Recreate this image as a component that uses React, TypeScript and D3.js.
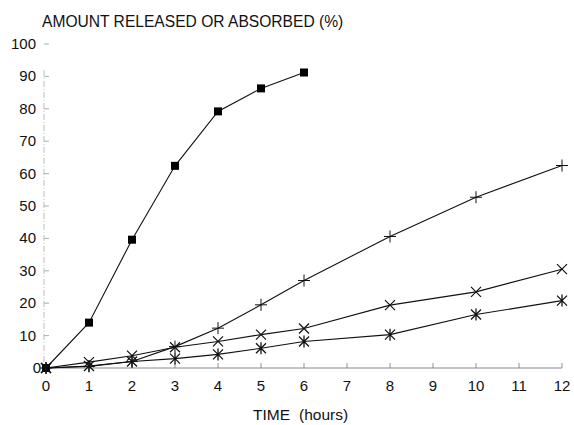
import React from "react";
import * as d3 from "d3";

const xTicks = [0, 1, 2, 3, 4, 5, 6, 7, 8, 9, 10, 11, 12];
const yTicks = [0, 10, 20, 30, 40, 50, 60, 70, 80, 90, 100];

const squareX = [0, 1, 2, 3, 4, 5, 6];
const squareY = [0, 14, 39.6, 62.4, 79.2, 86.3, 91.2];

const plusX = [0, 1, 2, 3, 4, 5, 6, 8, 10, 12];
const plusY = [0, 0.5, 2, 6.6, 12.3, 19.5, 27, 40.6, 52.7, 62.5];

const crossX = [0, 1, 2, 3, 4, 5, 6, 8, 10, 12];
const crossY = [0, 1.8, 3.8, 6.4, 8.2, 10.3, 12.2, 19.4, 23.5, 30.5];

const starX = [0, 1, 2, 3, 4, 5, 6, 8, 10, 12];
const starY = [0, 0.6, 2, 2.9, 4.2, 6.1, 8.2, 10.3, 16.5, 20.8];

const FONT = "'Liberation Sans', Arial, Helvetica, sans-serif";

export default function App() {
  const W = 574, H = 425;
  const x = d3.scaleLinear().domain([0, 12]).range([46, 562]);
  const y = d3.scaleLinear().domain([0, 100]).range([368, 44]);
  const line = d3.line<[number, number]>().x(d => x(d[0])).y(d => y(d[1]));
  const zip = (a: number[], b: number[]) => a.map((v, i) => [v, b[i]] as [number, number]);

  const sq = zip(squareX, squareY);
  const pl = zip(plusX, plusY);
  const cr = zip(crossX, crossY);
  const st = zip(starX, starY);

  return (
    <svg width={W} height={H} style={{ position: "absolute", left: 0, top: 0, background: "#fff" }}>
      <rect width={W} height={H} fill="#fff" />
      <text x={42} y={27} fontFamily={FONT} fontSize={15.6} fill="#111">AMOUNT RELEASED OR ABSORBED (%)</text>
      {/* y axis */}
      <line x1={44} x2={44} y1={y(92)} y2={y(0)} stroke="#aaa" strokeWidth={0.8} strokeDasharray="6 2 1 2" />
      {yTicks.map(t => (
        <g key={"y" + t}>
          <line x1={44} x2={49} y1={y(t)} y2={y(t)} stroke="#999" strokeWidth={0.8} />
          <text x={t === 0 ? 41 : 36} y={y(t) + 5} textAnchor="end" fontFamily={FONT} fontSize={15} fill="#111">{t}</text>
        </g>
      ))}
      {/* x axis */}
      <line x1={x(0)} x2={x(12)} y1={y(0)} y2={y(0)} stroke="#888" strokeWidth={1} />
      {xTicks.map(t => (
        <g key={"x" + t}>
          <line x1={x(t)} x2={x(t)} y1={y(0)} y2={y(0) - 5} stroke="#777" strokeWidth={0.8} />
          <text x={x(t)} y={391} textAnchor="middle" fontFamily={FONT} fontSize={15} fill="#111">{t}</text>
        </g>
      ))}
      <text x={253} y={420} fontFamily={FONT} fontSize={15.5} fill="#111">
        TIME<tspan dx={9}>(hours)</tspan>
      </text>

      {/* lines */}
      {[sq, pl, cr, st].map((d, i) => (
        <path key={"l" + i} d={line(d) || ""} fill="none" stroke="#111" strokeWidth={1.1} />
      ))}

      {/* markers */}
      {sq.map((d, i) => (
        <rect key={"s" + i} x={x(d[0]) - 4} y={y(d[1]) - 4} width={8} height={8} fill="#000" />
      ))}
      {pl.map((d, i) => (
        <path key={"p" + i} transform={`translate(${x(d[0])},${y(d[1])})`} d="M-6,0H6M0,-6V6" stroke="#111" strokeWidth={1} />
      ))}
      {cr.map((d, i) => (
        <path key={"c" + i} transform={`translate(${x(d[0])},${y(d[1])})`} d="M-5,-5L5,5M-5,5L5,-5" stroke="#111" strokeWidth={1.2} />
      ))}
      {st.map((d, i) => (
        <path key={"a" + i} transform={`translate(${x(d[0])},${y(d[1])})`} d="M-5,-5L5,5M-5,5L5,-5M0,-6V6" stroke="#111" strokeWidth={1.3} />
      ))}
    </svg>
  );
}
